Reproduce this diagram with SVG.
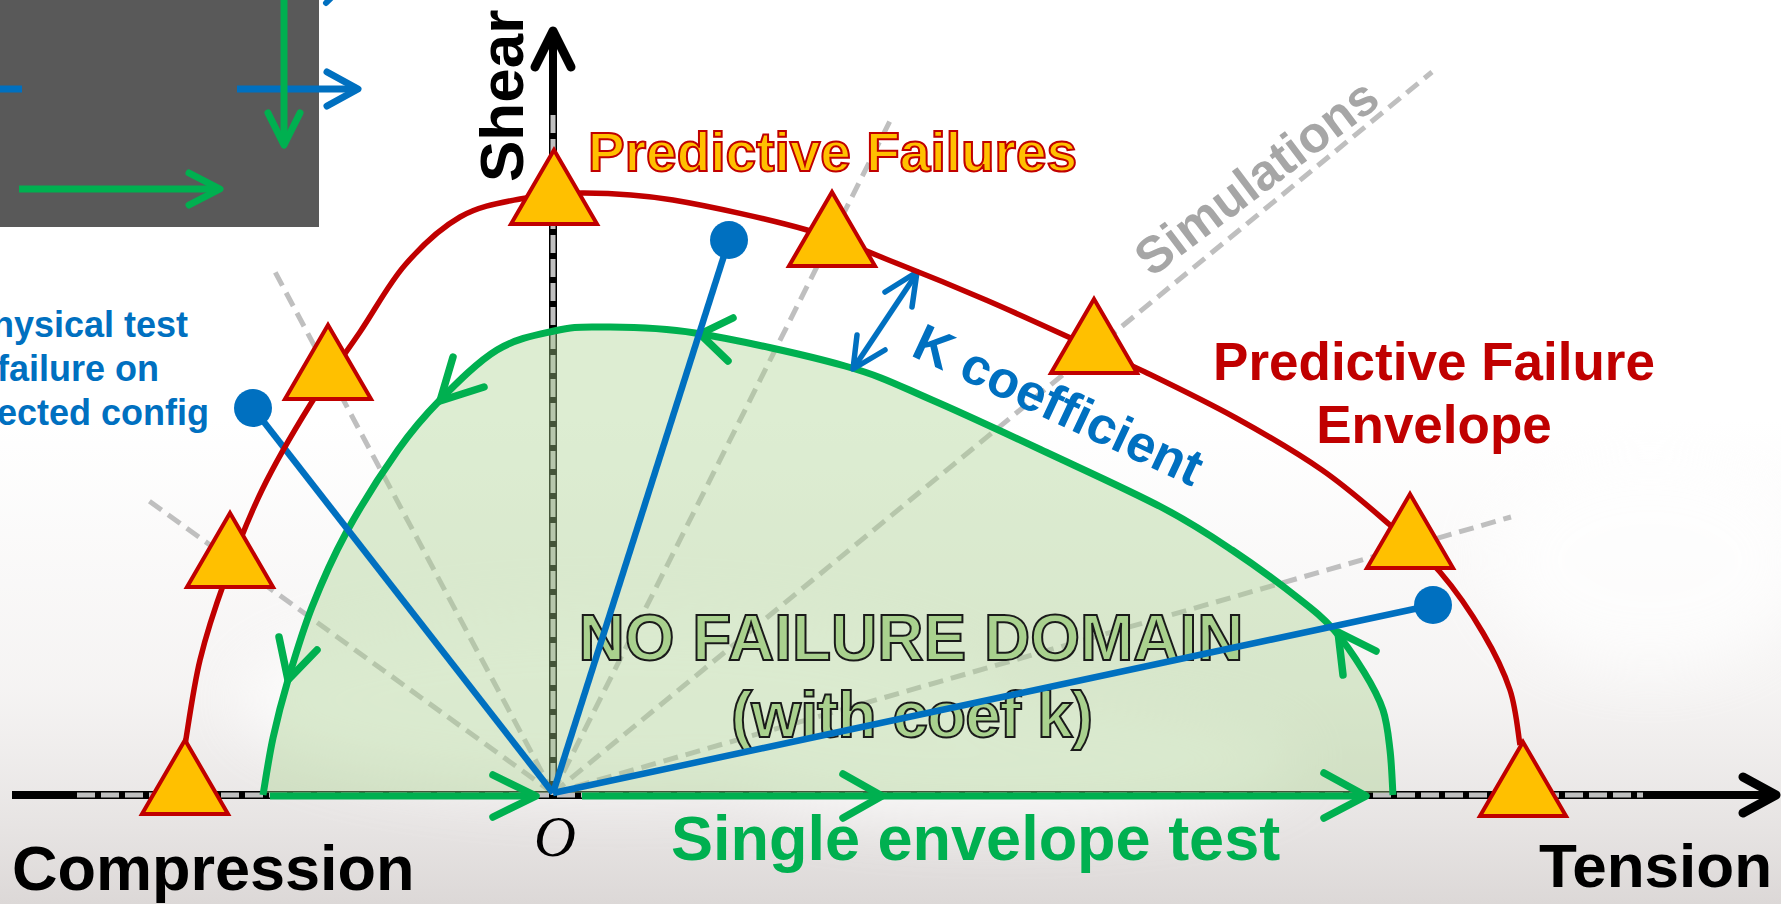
<svg xmlns="http://www.w3.org/2000/svg" width="1781" height="904" viewBox="0 0 1781 904">
  <style>
    .lbl { font-family: "Liberation Sans", Arial, sans-serif; font-weight: bold; }
    .sim { fill: none; stroke: #BFBFBF; stroke-width: 5; stroke-dasharray: 15 8; }
    .axis { fill: none; stroke: #000; stroke-width: 8; }
    .axisdash { fill: none; stroke: #C0C0C0; stroke-width: 5; stroke-dasharray: 18 6; }
    .chev { fill: none; stroke-linecap: round; stroke-linejoin: round; }
    .green { stroke: #00B050; }
    .blue { stroke: #0070C0; }
    .tri { fill: #FFC000; stroke: #C00000; stroke-width: 4; stroke-linejoin: miter; }
    .test { stroke: #0070C0; stroke-width: 6.5; fill: none; }
    .dot { fill: #0070C0; }
  </style>
  <defs>
    <linearGradient id="haze" x1="0" y1="0" x2="0" y2="1">
      <stop offset="0" stop-color="#EEEBEA" stop-opacity="0"/>
      <stop offset="0.55" stop-color="#EDEAE9" stop-opacity="0.55"/>
      <stop offset="1" stop-color="#DCD8D7" stop-opacity="1"/>
    </linearGradient>
    <filter id="soft" x="-50%" y="-50%" width="200%" height="200%">
      <feGaussianBlur stdDeviation="30"/>
    </filter>
    <polygon id="tri" points="0,0 43,74 -43,74"/>
  </defs>

  <!-- backdrop -->
  <rect x="0" y="0" width="1781" height="904" fill="#FFFFFF"/>
  <rect x="0" y="420" width="1781" height="484" fill="url(#haze)"/>
  <g filter="url(#soft)" opacity="0.7">
    <ellipse cx="620" cy="700" rx="380" ry="90" fill="#FFFFFF"/>
    <ellipse cx="1000" cy="760" rx="300" ry="60" fill="#FFFFFF"/>
    <ellipse cx="1650" cy="560" rx="160" ry="110" fill="#FFFFFF"/>
  </g>

  <!-- inset panel with loading arrows -->
  <g id="inset">
    <rect x="0" y="0" width="319" height="227" fill="#595959"/>
    <line x1="0" y1="89" x2="22" y2="89" class="blue" stroke-width="7"/>
    <line x1="237" y1="89" x2="356" y2="89" class="blue" stroke-width="7"/>
    <polyline points="327,72 358,89 327,106" class="chev blue" stroke-width="7"/>
    <line x1="284" y1="0" x2="284" y2="143" class="green" stroke-width="7"/>
    <polyline points="268,113 284,145 300,113" class="chev green" stroke-width="7"/>
    <line x1="19" y1="189" x2="218" y2="189" class="green" stroke-width="7"/>
    <polyline points="189,173 220,189 189,205" class="chev green" stroke-width="7"/>
    <line x1="326" y1="3" x2="333" y2="-4" class="chev blue" stroke-width="6"/>
  </g>

  <!-- simulation directions -->
  <g id="simulations">
    <line x1="553" y1="793" x2="145" y2="498" class="sim"/>
    <line x1="553" y1="793" x2="274" y2="270" class="sim"/>
    <line x1="553" y1="793" x2="892" y2="117" class="sim"/>
    <line x1="553" y1="793" x2="1432" y2="72" class="sim"/>
    <line x1="553" y1="793" x2="1511" y2="517" class="sim"/>
  </g>

  <!-- axes -->
  <g id="axes">
    <line x1="12" y1="795" x2="1772" y2="795" class="axis"/>
    <line x1="77" y1="795" x2="1643" y2="795" class="axisdash"/>
    <polyline points="1743,777 1776,795 1743,813" class="chev" stroke="#000" stroke-width="9"/>
    <line x1="553" y1="799" x2="553" y2="34" class="axis"/>
    <line x1="553" y1="115" x2="553" y2="795" class="axisdash"/>
    <polyline points="535,67 553,31 571,67" class="chev" stroke="#000" stroke-width="9"/>
  </g>

  <!-- no failure domain -->
  <g id="domain">
    <path d="M263,795 C264.7,785.5 268.8,757.2 273,738 C277.2,718.8 281.5,701.8 288,680 C294.5,658.2 302.3,631.5 312,607 C321.7,582.5 331.7,559.2 346,533 C360.3,506.8 382.3,472.2 398,450 C413.7,427.8 423.5,416.7 440,400 C456.5,383.3 478,361.5 497,350 C516,338.5 536.8,334.8 554,331 C571.2,327.2 576.5,326.7 600,327 C623.5,327.3 654.2,326.5 695,333 C735.8,339.5 805.5,354.8 845,366 C884.5,377.2 897.8,385.3 932,400 C966.2,414.7 1011.5,436 1050,454 C1088.5,472 1132.7,492 1163,508 C1193.3,524 1209.5,535 1232,550 C1254.5,565 1281,584.7 1298,598 C1315,611.3 1323,617.7 1334,630 C1345,642.3 1355.8,658.7 1364,672 C1372.2,685.3 1378.7,697 1383,710 C1387.3,723 1388.3,735.8 1390,750 C1391.7,764.2 1392.5,787.5 1393,793 L263,793 Z" fill="#A9D18E" fill-opacity="0.4"/>
    <text class="lbl" x="911" y="660" text-anchor="middle" font-size="64" font-weight="normal" fill="#A9D18E" stroke="#1A1A1A" stroke-width="2">NO FAILURE DOMAIN</text>
    <text class="lbl" x="912" y="737" text-anchor="middle" font-size="64" font-weight="normal" fill="#A9D18E" stroke="#1A1A1A" stroke-width="2" textLength="362" lengthAdjust="spacing">(with coef k)</text>
  </g>

  <!-- single envelope test loop -->
  <g id="envelope-test">
    <path d="M263,795 C264.7,785.5 268.8,757.2 273,738 C277.2,718.8 281.5,701.8 288,680 C294.5,658.2 302.3,631.5 312,607 C321.7,582.5 331.7,559.2 346,533 C360.3,506.8 382.3,472.2 398,450 C413.7,427.8 423.5,416.7 440,400 C456.5,383.3 478,361.5 497,350 C516,338.5 536.8,334.8 554,331 C571.2,327.2 576.5,326.7 600,327 C623.5,327.3 654.2,326.5 695,333 C735.8,339.5 805.5,354.8 845,366 C884.5,377.2 897.8,385.3 932,400 C966.2,414.7 1011.5,436 1050,454 C1088.5,472 1132.7,492 1163,508 C1193.3,524 1209.5,535 1232,550 C1254.5,565 1281,584.7 1298,598 C1315,611.3 1323,617.7 1334,630 C1345,642.3 1355.8,658.7 1364,672 C1372.2,685.3 1378.7,697 1383,710 C1387.3,723 1388.3,735.8 1390,750 C1391.7,764.2 1392.5,787.5 1393,795" fill="none" stroke="#00B050" stroke-width="7"/>
    <line x1="270" y1="796" x2="534" y2="796" class="green" stroke-width="7"/>
    <line x1="582" y1="796" x2="1365" y2="796" class="green" stroke-width="7"/>
    <polyline points="493,775 536,796 493,817" class="chev green" stroke-width="7.5"/>
    <polyline points="843,774 882,796 843,818" class="chev green" stroke-width="7.5"/>
    <polyline points="1324,773 1366,796 1324,818" class="chev green" stroke-width="7.5"/>
    <polyline points="1343,675 1338,632 1376,651" class="chev green" stroke-width="7.5"/>
    <polyline points="733,318 700,334 728,361" class="chev green" stroke-width="7.5"/>
    <polyline points="453,357 440,401 484,387" class="chev green" stroke-width="7.5"/>
    <polyline points="279,637 288,680 317,650" class="chev green" stroke-width="7.5"/>
  </g>

  <!-- physical tests -->
  <g id="physical-tests">
    <line x1="553" y1="793" x2="253" y2="408" class="test"/>
    <circle cx="253" cy="408" r="19" class="dot"/>
    <line x1="553" y1="793" x2="729" y2="240" class="test"/>
    <circle cx="729" cy="240" r="19" class="dot"/>
    <line x1="553" y1="793" x2="1433" y2="605" class="test"/>
    <circle cx="1433" cy="605" r="19" class="dot"/>
  </g>

  <!-- K coefficient gap -->
  <g id="k-gap">
    <line x1="915" y1="276" x2="855" y2="366" class="blue" stroke-width="5.5"/>
    <polyline points="885,292 917,272 912,307" class="chev blue" stroke-width="5.5"/>
    <polyline points="857,335 853,369 885,350" class="chev blue" stroke-width="5.5"/>
  </g>

  <!-- predictive failure envelope -->
  <g id="failure-envelope">
    <path d="M185,745 C187.5,730.8 193.3,687.5 200,660 C206.7,632.5 214.7,608.3 225,580 C235.3,551.7 247.8,519.2 262,490 C276.2,460.8 293.7,431.3 310,405 C326.3,378.7 344.2,355.3 360,332 C375.8,308.7 388.3,284.2 405,265 C421.7,245.8 440.8,228 460,217 C479.2,206 499.3,203 520,199 C540.7,195 558.5,192.8 584,193 C609.5,193.2 635.8,193.8 673,200 C710.2,206.2 769.8,219.5 807,230 C844.2,240.5 866.2,251.3 896,263 C925.8,274.7 956.2,287.2 986,300 C1015.8,312.8 1048.5,328 1075,340 C1101.5,352 1118.2,359 1145,372 C1171.8,385 1206.5,401.7 1236,418 C1265.5,434.3 1296.3,452.2 1322,470 C1347.7,487.8 1370.3,508 1390,525 C1409.7,542 1424.5,554 1440,572 C1455.5,590 1471.3,613 1483,633 C1494.7,652.7 1503.8,671.3 1510,690 C1516.2,708.7 1518.3,735.8 1520,745" fill="none" stroke="#C00000" stroke-width="5.5"/>
  </g>

  <!-- predicted failure points -->
  <g id="pf-1"><use href="#tri" x="554" y="150" class="tri"/></g>
  <g id="pf-2"><use href="#tri" x="832" y="192" class="tri"/></g>
  <g id="pf-3"><use href="#tri" x="1094" y="299" class="tri"/></g>
  <g id="pf-4"><use href="#tri" x="1410" y="494" class="tri"/></g>
  <g id="pf-5"><use href="#tri" x="1523" y="742" class="tri"/></g>
  <g id="pf-6"><use href="#tri" x="185" y="740" class="tri"/></g>
  <g id="pf-7"><use href="#tri" x="230" y="513" class="tri"/></g>
  <g id="pf-8"><use href="#tri" x="328" y="325" class="tri"/></g>

  <!-- labels -->
  <g id="labels">
    <text class="lbl" transform="translate(523,182) rotate(-90)" font-size="62" fill="#000">Shear</text>
    <text class="lbl" x="588" y="171" font-size="55" fill="#FFC000" stroke="#C00000" stroke-width="2">Predictive Failures</text>
    <text class="lbl" transform="translate(1267,191) rotate(-37)" text-anchor="middle" font-size="51" fill="#A6A6A6">Simulations</text>
    <text class="lbl" transform="translate(1051,421) rotate(25)" text-anchor="middle" font-size="52" fill="#0070C0">K coefficient</text>
    <text class="lbl" x="1434" y="380" text-anchor="middle" font-size="53" fill="#C00000">Predictive Failure</text>
    <text class="lbl" x="1434" y="443" text-anchor="middle" font-size="53" fill="#C00000">Envelope</text>
    <text class="lbl" x="78" y="337" text-anchor="middle" font-size="36" fill="#0070C0">Physical test</text>
    <text class="lbl" x="78" y="381" text-anchor="middle" font-size="36" fill="#0070C0">failure on</text>
    <text class="lbl" x="78" y="425" text-anchor="middle" font-size="36" fill="#0070C0">selected config</text>
    <text class="lbl" x="671" y="860" font-size="63" fill="#00B050">Single envelope test</text>
    <text class="lbl" x="12" y="890" font-size="63" fill="#000">Compression</text>
    <text class="lbl" x="1772" y="887" text-anchor="end" font-size="62" fill="#000">Tension</text>
    <text x="555" y="856" text-anchor="middle" font-family="'Liberation Serif', 'Times New Roman', serif" font-style="italic" font-size="58" fill="#000">O</text>
  </g>
</svg>
